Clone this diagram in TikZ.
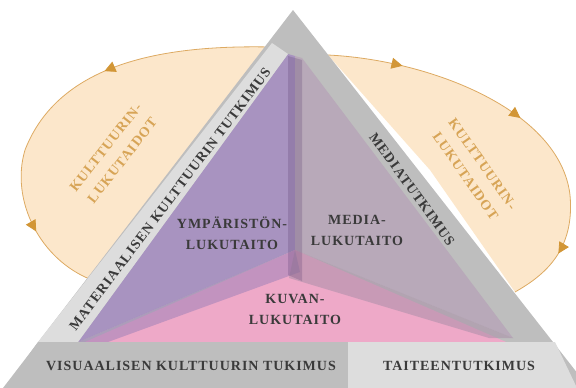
\documentclass[tikz,border=0pt]{standalone}
\usepackage{fontspec}
\setmainfont{Liberation Serif}
\newfontfamily\capsfont[LetterSpace=7]{Liberation Serif}
\usetikzlibrary{arrows.meta,decorations.markings}
\definecolor{ink}{HTML}{3A3A3A}
\definecolor{goldtext}{HTML}{D7A456}
\definecolor{blobfill}{HTML}{FCE7CB}
\definecolor{blobline}{HTML}{DDAA62}
\definecolor{arrowgold}{HTML}{D29636}
\definecolor{greydark}{HTML}{BEBEBE}
\definecolor{greylight}{HTML}{DDDDDD}
\definecolor{facepurple}{HTML}{A893C0}
\definecolor{facemauve}{HTML}{B8A9B9}
\definecolor{facepink}{HTML}{EEA9C8}
\definecolor{edgepurple}{HTML}{9E82B8}
\definecolor{edgemauve}{HTML}{A98FA8}
\definecolor{edgedark}{HTML}{5A3C70}
\begin{document}
\begin{tikzpicture}[x=1pt,y=-1pt,
  lbl/.style={font=\capsfont\bfseries\fontsize{14}{21}\selectfont,text=ink,align=center,inner sep=0pt},
  gold/.style={lbl,text=goldtext},
  loop/.style={draw=blobline,line width=0.8pt},
  looptip/.tip={Triangle[length=11pt,width=11pt,color=arrowgold]}]
\useasboundingbox (0,0) rectangle (576,388);

% culture loops behind the triangle
\fill[blobfill] (270,47) .. controls (170,45) and (60,60) .. (25,150) .. controls (10,200) and (40,260) .. (92,280) -- (200,170) -- cycle;
\draw[loop,postaction={decorate},decoration={markings,
  mark=at position 0.38 with {\arrow{looptip}},
  mark=at position 0.83 with {\arrow{looptip}}}]
  (270,47) .. controls (170,45) and (60,60) .. (25,150) .. controls (10,200) and (40,260) .. (92,280);
\fill[blobfill] (328,55) .. controls (430,60) and (560,110) .. (570,195) .. controls (575,250) and (545,275) .. (515,292) -- (430,170) -- cycle;
\draw[loop,postaction={decorate},decoration={markings,
  mark=at position 0.18 with {\arrow{looptip}},
  mark=at position 0.49 with {\arrow{looptip}},
  mark=at position 0.86 with {\arrow{looptip}}}]
  (328,55) .. controls (430,60) and (560,110) .. (570,195) .. controls (575,250) and (545,275) .. (515,292);

% outer triangle
\fill[greydark] (293,10) -- (589,388) -- (3,388) -- cycle;

% pyramid faces
\fill[facepurple] (288,54) -- (295,56) -- (295,250) -- (78,342) -- cycle;
\fill[facemauve] (295,56) -- (302,58) -- (513,338) -- (295,250) -- cycle;
\fill[facepink] (78,345) -- (295,250) -- (513,345) -- cycle;
% shaded edges
\fill[edgepurple,fill opacity=.55] (295,250) -- (78,342) -- (108,342) -- (300,272) -- cycle;
\fill[edgemauve,fill opacity=.55] (295,250) -- (513,338) -- (489,338) -- (289,278) -- cycle;
\fill[edgedark,fill opacity=.25] (288,56) -- (302,60) -- (302,281) -- (288,275) -- cycle;

% light strip on the left
\fill[greylight] (272,43) -- (288,54) -- (78,342) -- (38,342) -- cycle;

% bottom band
\fill[greydark] (38,342) -- (348,342) -- (348,388) -- (5,388) -- cycle;
\fill[greylight] (348,342) -- (555,342) -- (577,388) -- (348,388) -- cycle;

% labels
\node[lbl] (visual) at (191,366) {VISUAALISEN KULTTUURIN TUKIMUS};
\node[lbl] (taide) at (459,366) {TAITEENTUTKIMUS};
\node[lbl] (ymp) at (232,233) {YMPÄRISTÖN-\\LUKUTAITO};
\node[lbl] (media) at (357,230) {MEDIA-\\LUKUTAITO};
\node[lbl] (kuva) at (295,309) {KUVAN-\\LUKUTAITO};
\node[lbl,rotate=53] (mater) at (170,199) {MATERIAALISEN KULTTUURIN TUTKIMUS};
\node[lbl,rotate=-54] (mediat) at (412,189) {MEDIATUTKIMUS};
\node[gold,rotate=52] (kultL) at (114,154) {KULTTUURIN-\\LUKUTAIDOT};
\node[gold,rotate=-55] (kultR) at (474,170) {KULTTUURIN-\\LUKUTAIDOT};
\end{tikzpicture}
\end{document}
